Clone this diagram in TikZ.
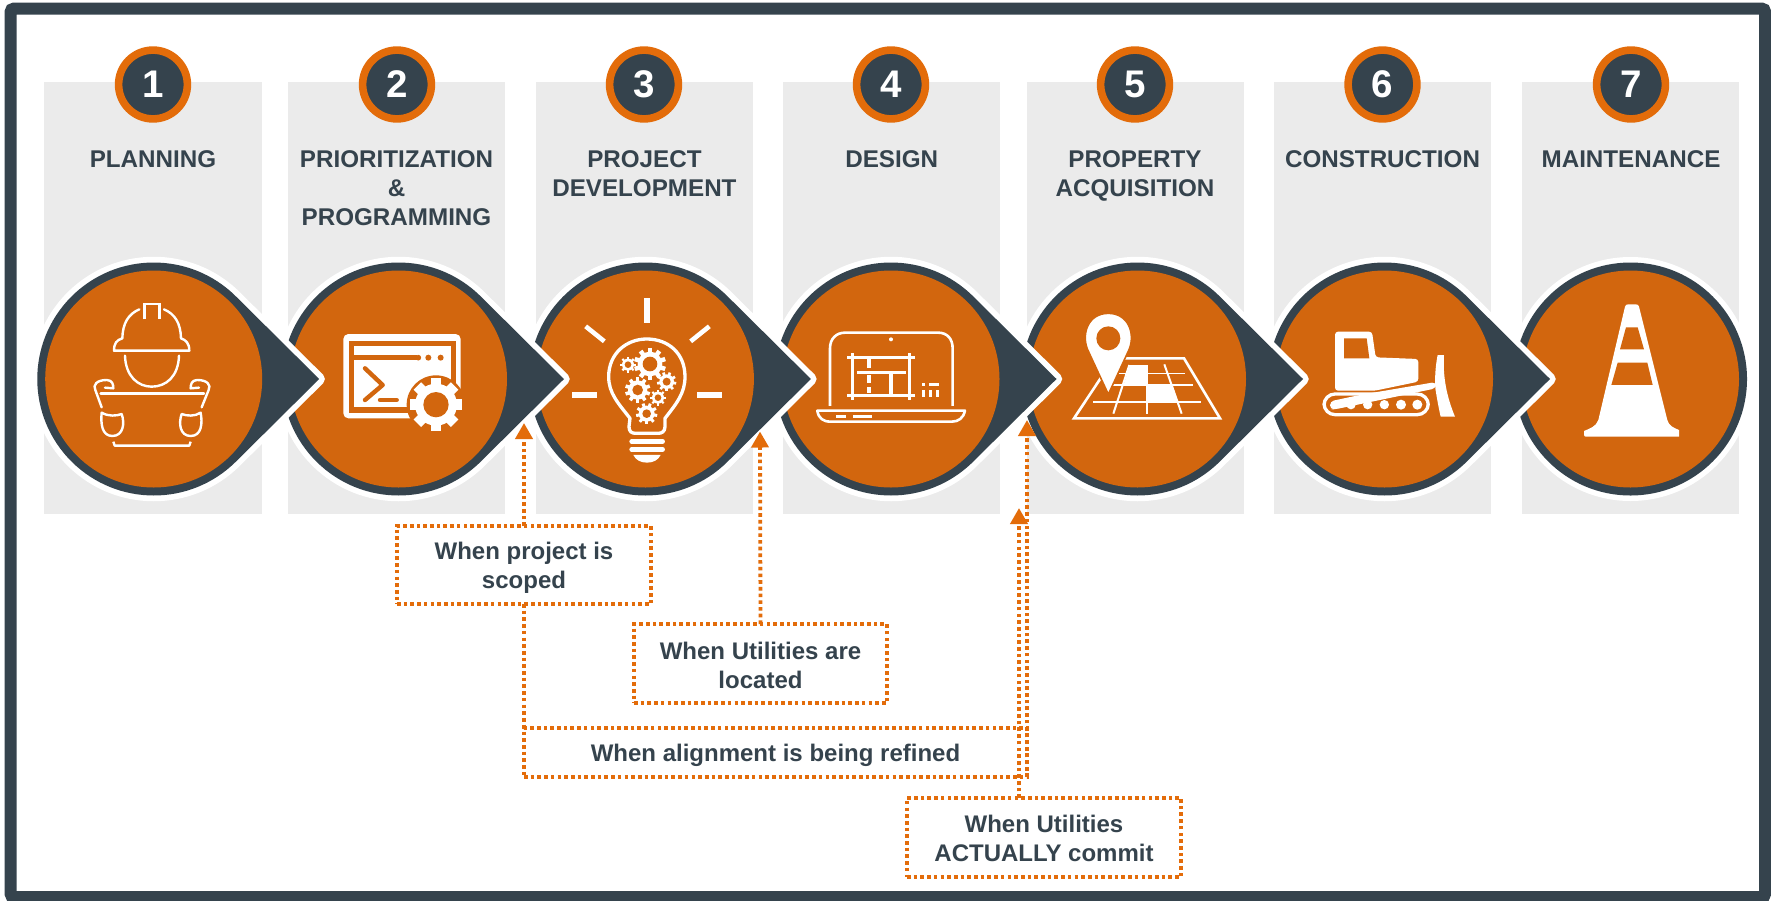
\documentclass[tikz,border=0pt]{standalone}
\usepackage{fontspec}
\setmainfont{Liberation Sans}
\usetikzlibrary{arrows.meta}
\definecolor{darkslate}{HTML}{35434D}
\definecolor{burnt}{HTML}{D2660E}
\definecolor{ringorange}{HTML}{E36C0A}
\definecolor{panelgray}{HTML}{EBEBEB}
\tikzset{
  x=1pt,y=-1pt,
  panel/.style={fill=panelgray,draw=none},
  numdisc/.style={circle,draw=ringorange,fill=darkslate,line width=7.6pt,minimum size=68.8pt,inner sep=0pt,outer sep=0pt,text=white,font=\fontsize{38.5}{38.5}\selectfont\bfseries},
  headtext/.style={anchor=north,inner sep=0pt,align=center,text=darkslate,font=\fontsize{24.2}{29}\selectfont\bfseries},
  notebox/.style={draw=ringorange,line width=3.8pt,dash pattern=on 3.6pt off 3.1pt,rectangle,inner sep=0pt,outer sep=0pt,align=center,text=darkslate,font=\fontsize{24}{29}\selectfont\bfseries},
  conn/.style={draw=ringorange,line width=3.8pt,dash pattern=on 3.6pt off 3.1pt},
  tipped/.style={conn,-{Triangle[width=17pt,length=16pt,fill=ringorange]}},
  ic/.style={draw=white,line cap=round,line join=round},
}
\newcommand{\dropshape}[1]{%
  \begin{scope}[shift={(#1,379)}]
    \path[fill=darkslate,draw=white,line width=11.5pt,line join=round]
      (165.5,0) -- (82,-82.8) arc[start angle=-45.3,end angle=-314.7,radius=116.5] -- cycle;
    \fill[darkslate] (165.5,0) -- (82,-82.8) arc[start angle=-45.3,end angle=-314.7,radius=116.5] -- cycle;
    \fill[burnt] (0,0) circle[radius=108.5];
  \end{scope}}
\newcommand{\cogwheel}[7]{%
  \fill[white] (#1,#2) circle[radius=#4];
  \foreach \a in {1,...,#6}{%
    \fill[white,shift={(#1,#2)},rotate=\a*360/#6] (-#7*#3,#4*0.9) rectangle (#7*#3,#3);
  }%
  \fill[burnt] (#1,#2) circle[radius=#5];}
\begin{document}
\begin{tikzpicture}
\useasboundingbox (0,0) rectangle (1771,900);
\fill[white] (0,0) rectangle (1771,900);
% frame
\draw[darkslate,line width=12pt,rounded corners=3pt] (10.7,8.7) rectangle (1765,897);
% panels
\foreach \l/\r in {44/262,288/505,536/753,783/1000,1027/1244,1274/1491,1522/1739}
  \fill[panel] (\l,82) rectangle (\r,514);
% teardrops, last first
\begin{scope}[shift={(1630.5,379)}]
  \fill[white] (0,0) circle[radius=122];
  \fill[darkslate] (0,0) circle[radius=116.5];
  \fill[burnt] (0,0) circle[radius=108.5];
\end{scope}
\dropshape{1384.5}
\dropshape{1137.5}
\dropshape{891}
\dropshape{645.4}
\dropshape{398.5}
\dropshape{153.7}
% number discs
\node[numdisc] (n1) at (153,84.5) {1};
\node[numdisc] (n2) at (397,84.5) {2};
\node[numdisc] (n3) at (644,84.5) {3};
\node[numdisc] (n4) at (891,84.5) {4};
\node[numdisc] (n5) at (1135,84.5) {5};
\node[numdisc] (n6) at (1382.5,84.5) {6};
\node[numdisc] (n7) at (1631,84.5) {7};
% headings
\node[headtext] (h1) at (153,150.8) {PLANNING};
\node[headtext] (h2) at (396.5,150.8) {PRIORITIZATION\\\&\\PROGRAMMING};
\node[headtext] (h3) at (644.4,150.3) {PROJECT\\DEVELOPMENT};
\node[headtext] (h4) at (891.7,150.3) {DESIGN};
\node[headtext] (h5) at (1135,150.3) {PROPERTY\\ACQUISITION};
\node[headtext] (h6) at (1382.5,150.3) {CONSTRUCTION};
\node[headtext] (h7) at (1631,150.3) {MAINTENANCE};
% icon 1: worker
\begin{scope}[shift={(80,290)},x=0.3333pt,y=-0.3333pt,ic,line width=2.4pt]
  \draw (178,58) .. controls (145,72) and (128,100) .. (127,145) .. controls (110,150) and (102,160) .. (102,182) -- (328,182) .. controls (328,160) and (318,150) .. (303,145) .. controls (302,100) and (285,72) .. (252,58);
  \draw[line cap=butt,line join=miter] (193,88) -- (193,42) -- (238,42) -- (238,88);
  \draw (135,197) .. controls (137,260) and (175,290) .. (215,290) .. controls (258,290) and (295,260) .. (297,197);
  \draw (62,311) -- (372,311);
  \draw (65,352) -- (46,300) .. controls (38,285) and (50,270) .. (80,270) .. controls (98,270) and (100,285) .. (100,295) -- (75,293);
  \draw (365,352) -- (386,300) .. controls (394,285) and (382,270) .. (352,270) .. controls (334,270) and (332,285) .. (332,295) -- (357,293);
  \draw (65,368) .. controls (85,380) and (110,378) .. (125,372) .. controls (135,400) and (130,438) .. (97,438) .. controls (65,438) and (62,400) .. (65,368) -- cycle;
  \draw (362,368) .. controls (345,380) and (320,378) .. (305,372) .. controls (295,400) and (300,438) .. (332,438) .. controls (365,438) and (368,400) .. (362,368) -- cycle;
  \draw[line cap=butt] (100,455) -- (104,467) -- (328,467) -- (332,455);
\end{scope}
% icon 2: console and gear
\begin{scope}[shift={(330,320)},x=0.3333pt,y=-0.3333pt]
  \fill[white,rounded corners=5pt] (40,42) rectangle (392,295);
  \fill[burnt] (58,62) rectangle (378,278);
  \fill[white] (73,77) rectangle (363,262);
  \draw[burnt,line width=5.4pt] (70,113) -- (262,113);
  \fill[burnt] (265,113) circle[radius=8.5];
  \fill[burnt] (295,113) circle[radius=9] (332,113) circle[radius=9];
  \draw[burnt,line width=4.4pt,line cap=round,line join=round] (105,145) -- (158,195) -- (105,240);
  \draw[burnt,line width=4.4pt,line cap=round] (150,240) -- (200,240);
  \fill[burnt] (318,254) circle[radius=88];
  \cogwheel{318}{254}{79}{63}{38}{8}{0.2}
\end{scope}
% icon 3: bulb
\begin{scope}[shift={(560,290)},x=0.3333pt,y=-0.3333pt]
  \fill[white] (252,24) rectangle (270,99);
  \fill[white] (36,306) rectangle (111,324);
  \fill[white] (411,306) rectangle (486,324);
  \draw[white,line width=4.6pt] (77,109) -- (133,154);
  \draw[white,line width=4.6pt] (448,109) -- (392,154);
  \draw[white,line width=3.3pt,line join=round] (210,385) .. controls (175,340) and (146,310) .. (146,260) .. controls (146,190) and (200,147) .. (260,147) .. controls (325,147) and (375,190) .. (375,260) .. controls (375,310) and (350,340) .. (315,385) -- (315,410) .. controls (315,425) and (305,430) .. (295,430) -- (227,430) .. controls (215,430) and (207,425) .. (207,410) -- cycle;
  \draw[white,line width=4.6pt,line cap=round] (215,454) -- (308,454);
  \draw[white,line width=4.6pt,line cap=round] (215,478) -- (308,478);
  \fill[white] (220,495) -- (302,495) .. controls (295,510) and (280,518) .. (261,518) .. controls (242,518) and (227,510) .. (220,495) -- cycle;
  \cogwheel{270}{222}{48}{37}{22}{10}{0.14}
  \cogwheel{204}{224}{24}{18}{10}{8}{0.14}
  \cogwheel{320}{275}{29}{22}{12}{9}{0.14}
  \cogwheel{233}{300}{38}{29}{16}{10}{0.14}
  \cogwheel{294}{323}{24}{18}{10}{8}{0.14}
  \cogwheel{260}{371}{32}{24}{13}{9}{0.14}
\end{scope}
% icon 4: laptop
\begin{scope}[shift={(810,320)},x=0.3333pt,y=-0.3333pt]
  \draw[white,line width=2.6pt,line join=round] (60,258) -- (60,85) .. controls (60,55) and (80,38) .. (105,38) -- (385,38) .. controls (410,38) and (428,55) .. (428,85) -- (428,258);
  \fill[white] (243,58) circle[radius=6];
  \draw[white,line width=2.6pt,line join=round] (22,272) -- (465,272) .. controls (460,295) and (445,305) .. (425,305) -- (62,305) .. controls (40,305) and (25,295) .. (22,272) -- cycle;
  \fill[white] (78,285) rectangle (108,293);
  \fill[white] (130,285) rectangle (186,293);
  \draw[white,line width=3.3pt] (112,113) -- (315,113);
  \draw[white,line width=3pt] (127,99) -- (127,240);
  \draw[white,line width=3pt] (299,99) -- (299,240);
  \draw[white,line width=3.3pt] (112,226) -- (315,226);
  \draw[white,line width=3.6pt] (141,158) -- (288,158);
  \draw[white,line width=4pt] (177,118) -- (177,145);
  \draw[white,line width=4pt] (177,165) -- (177,190);
  \draw[white,line width=4pt] (177,201) -- (177,220);
  \draw[white,line width=3.6pt] (243,163) -- (243,222);
  \fill[white] (335,188) rectangle (345,198);
  \fill[white] (357,188) rectangle (387,198);
  \fill[white] (335,210) rectangle (345,232);
  \fill[white] (357,210) rectangle (367,232);
  \fill[white] (378,210) rectangle (387,232);
\end{scope}
% icon 5: map pin
\begin{scope}[shift={(1060,305)},x=0.3333pt,y=-0.3333pt]
  \draw[white,line width=2.6pt,line join=miter] (195,160) -- (372,160) -- (480,340) -- (42,340) -- (125,215);
  \draw[white,line width=1.8pt] (100,290) -- (422,290);
  \draw[white,line width=1.8pt] (160,241) -- (398,241);
  \draw[white,line width=1.6pt] (175,206) -- (376,206);
  \draw[white,line width=2.2pt] (260,180) -- (260,326);
  \draw[white,line width=2pt] (208,180) -- (160,326);
  \draw[white,line width=2pt] (313,178) -- (365,326);
  \fill[white] (210,180) -- (262,180) -- (262,242) -- (190,242) -- cycle;
  \fill[white] (260,242) -- (338,242) -- (353,290) -- (260,290) -- cycle;
  \path[fill=white,draw=burnt,line width=1.6pt,line join=round] (145,268) -- (82,132) .. controls (64,85) and (85,25) .. (145,25) .. controls (205,25) and (226,85) .. (208,132) -- cycle;
  \fill[burnt] (145,100) circle[radius=36];
\end{scope}
% icon 6: bulldozer
\begin{scope}[shift={(1310,320)},x=0.3333pt,y=-0.3333pt]
  \fill[white,rounded corners=3pt] (75,35) -- (186,35) -- (197,112) -- (325,117) -- (325,185) -- (195,212) -- (75,212) -- cycle;
  \fill[burnt] (102,55) -- (170,55) -- (178,115) -- (102,115) -- cycle;
  \draw[white,line width=3.3pt,rounded corners=11pt] (42,222) rectangle (355,284);
  \fill[white] (322,254) circle[radius=15];
  \fill[white] (273,254) circle[radius=15];
  \fill[white] (223,254) circle[radius=14];
  \fill[white] (173,254) circle[radius=14];
  \fill[white] (123,254) circle[radius=14];
  \fill[white,rounded corners=4pt] (60,244) -- (135,228) -- (190,218) -- (378,186) -- (378,205) -- (75,268) -- (60,268) -- cycle;
  \fill[white] (383,105) -- (402,105) .. controls (398,170) and (410,230) .. (435,290) -- (392,290) .. controls (385,260) and (380,230) .. (376,205) -- (375,185) .. controls (376,150) and (378,130) .. (383,105) -- cycle;
\end{scope}
% icon 7: cone
\begin{scope}[shift={(1570,295)},x=0.3333pt,y=-0.3333pt]
  \fill[white] (165,35) .. controls (166,30) and (170,28) .. (175,28) -- (197,28) .. controls (203,28) and (206,30) .. (207,35) -- (292,375) .. controls (296,392) and (310,398) .. (327,405) -- (327,425) -- (47,425) .. controls (43,425) and (42,422) .. (42,418) -- (42,408) .. controls (60,400) and (78,395) .. (85,375) -- cycle;
  \fill[burnt] (168,97) -- (203,97) -- (222,163) -- (150,163) -- cycle;
  \fill[burnt] (143,203) -- (232,203) -- (248,270) -- (124,270) -- cycle;
\end{scope}
% note boxes
\node[notebox,minimum width=254pt,minimum height=78pt] (b1) at (524,565) {\rule{0pt}{23.5pt}When project is\\scoped};
\node[notebox,minimum width=253pt,minimum height=79pt] (b2) at (760.5,663.5) {\rule{0pt}{20.5pt}When Utilities are\\located};
\node[notebox,minimum width=503pt,minimum height=49pt] (b3) at (775.5,752.5) {\rule{0pt}{23.5pt}When alignment is being refined};
\node[notebox,minimum width=274pt,minimum height=79pt] (b4) at (1044,837.5) {\rule{0pt}{19.5pt}When Utilities\\ACTUALLY commit};
% connector free ends
\coordinate (t1) at (524,423);
\coordinate (t2) at (760,431.5);
\coordinate (t3) at (1027,420);
\coordinate (t4) at (1019,508);
\draw[tipped] (b1.north) -- (t1);
\draw[tipped] (b2.north) -- (t2);
\draw[conn] (b1.south) -- (b3.north west);
\draw[tipped] (b3.south east) -- (t3);
\draw[tipped] (t4 |- b4.north) -- (t4);
\end{tikzpicture}
\end{document}
